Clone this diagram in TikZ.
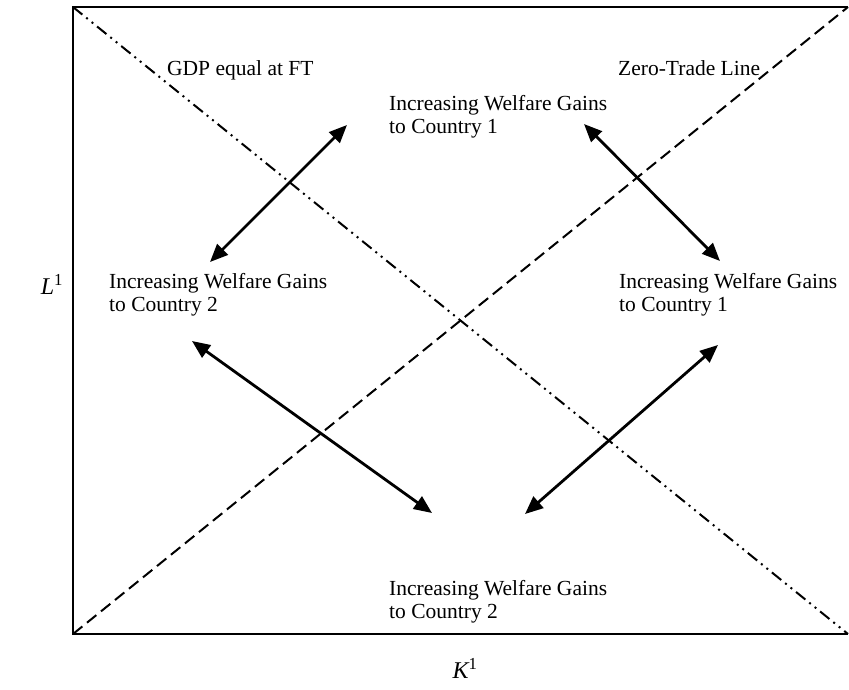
\documentclass[tikz,border=0pt]{standalone}
\usepackage{fontspec}
\setmainfont{Liberation Serif}
\usepackage{tikz}
\usetikzlibrary{arrows.meta}

\tikzset{
	gain/.style={anchor=north west,align=left,inner sep=0pt,font=\fontsize{21.5}{23}\selectfont},
	linelabel/.style={anchor=base west,inner sep=0pt,font=\fontsize{21.5}{23}\selectfont},
	axislabel/.style={inner sep=0pt,font=\fontsize{24}{26}\selectfont},
	twoway/.style={line width=2.8pt,{Triangle[length=18pt,width=15pt]}-{Triangle[length=18pt,width=15pt]}},
	dashdotdot/.style={line width=2pt,dash pattern=on 12pt off 5pt on 2pt off 5pt on 2pt off 5pt}
}

\begin{document}
\begin{tikzpicture}[x=1pt,y=-1pt]
		\useasboundingbox (0,0) rectangle (849,689);
		\begin{scope}
			\coordinate (1) at (73,7);
			\coordinate (2) at (848,7);
			\coordinate (3) at (848,634);
			\coordinate (4) at (73,634);
			\draw[line width=1.8pt] (2) -- (1) -- (4) -- (3);
			\draw[line width=2pt,dash pattern=on 12pt off 6pt] (4) -- (2);
			\draw[dashdotdot] (1) -- (3);
			% labels
			\node[linelabel] (gdp) at (167,75) {GDP equal at FT};
			\node[linelabel] (zt) at (618,75) {Zero-Trade Line};
			\node[gain] (top1) at (389,95) {Increasing Welfare Gains\\to Country 1};
			\node[gain] (left2) at (109,273) {Increasing Welfare Gains\\to Country 2};
			\node[gain] (right1) at (619,273) {Increasing Welfare Gains\\to Country 1};
			\node[gain] (bot2) at (389,580) {Increasing Welfare Gains\\to Country 2};
			\node[axislabel] (L) at (52,284) {\itshape L\textsuperscript{\upshape 1}};
			\node[axislabel] (K) at (465,668) {\itshape K\textsuperscript{\upshape 1}};
			% arrows
			\coordinate (a1) at (347,125);
			\coordinate (a2) at (210,262);
			\coordinate (b1) at (584,124);
			\coordinate (b2) at (720,261);
			\coordinate (c1) at (192,341);
			\coordinate (c2) at (432,513);
			\coordinate (d1) at (718,345);
			\coordinate (d2) at (525,514);
			\draw[twoway] (a1) -- (a2);
			\draw[twoway] (b1) -- (b2);
			\draw[twoway] (c1) -- (c2);
			\draw[twoway] (d1) -- (d2);
		\end{scope}
	\end{tikzpicture}
\end{document}
